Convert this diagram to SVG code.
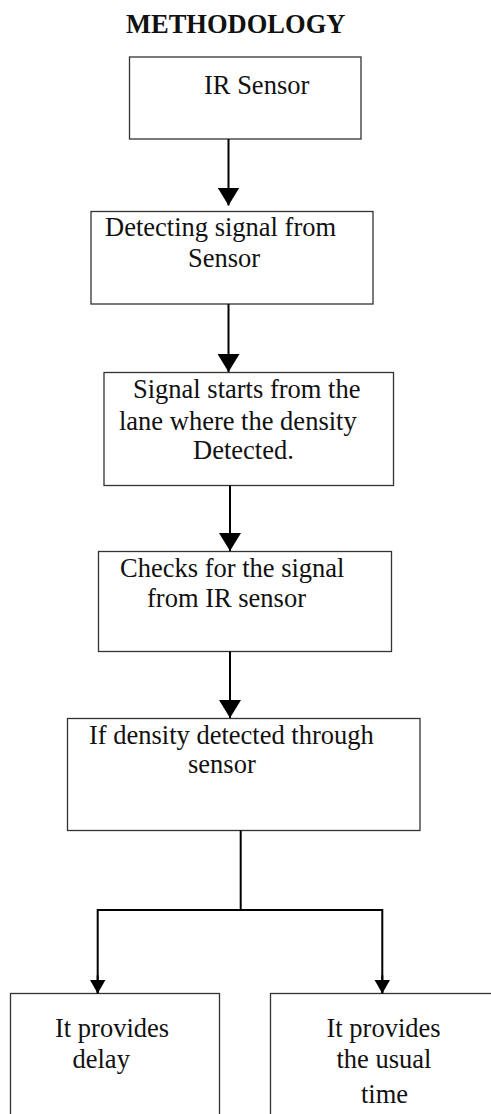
<svg xmlns="http://www.w3.org/2000/svg" width="491" height="1114" viewBox="0 0 491 1114">
<defs>
<style>
.box{fill:#fff;stroke:#333;stroke-width:1.3}
.t{font-family:"Liberation Serif","Times New Roman",serif;font-size:26.5px;fill:#111}
.title{font-family:"Liberation Serif","Times New Roman",serif;font-size:26.5px;font-weight:bold;fill:#111}
.c{stroke:#000;stroke-width:2;fill:none}
</style>
<marker id="ah" viewBox="0 0 18 22" refX="18" refY="11" markerWidth="18" markerHeight="22" markerUnits="userSpaceOnUse" orient="auto">
<path d="M0,0 L18,11 L0,22 Z" fill="#000"/>
</marker>
<marker id="ahs" viewBox="0 0 14 16" refX="14" refY="8" markerWidth="14" markerHeight="16" markerUnits="userSpaceOnUse" orient="auto">
<path d="M0,0 L14,8 L0,16 Z" fill="#000"/>
</marker>
</defs>
<rect width="491" height="1114" fill="#fff"/>
<text class="title" x="126" y="33">METHODOLOGY</text>
<g id="n1"><rect class="box" x="129.5" y="57" width="231.5" height="82"/><text class="t" x="204" y="94">IR Sensor</text></g>
<g id="n2"><rect class="box" x="91" y="211.5" width="282" height="92.5"/><text class="t" x="105" y="235.5">Detecting signal from</text><text class="t" x="188" y="267">Sensor</text></g>
<g id="n3"><rect class="box" x="104" y="372.5" width="289.5" height="113"/><text class="t" x="133" y="398">Signal starts from the</text><text class="t" x="119" y="430">lane where the density</text><text class="t" x="193" y="459">Detected.</text></g>
<g id="n4"><rect class="box" x="98.5" y="551.5" width="293" height="100"/><text class="t" x="120" y="577">Checks for the signal</text><text class="t" x="147" y="606.5">from IR sensor</text></g>
<g id="n5"><rect class="box" x="67.5" y="718.5" width="352.5" height="112"/><text class="t" x="89" y="744">If density detected through</text><text class="t" x="188" y="773">sensor</text></g>
<g id="n6"><rect class="box" x="10.5" y="993.5" width="209" height="130"/><text class="t" x="55" y="1036.5">It provides</text><text class="t" x="72.5" y="1068">delay</text></g>
<g id="n7"><rect class="box" x="270.5" y="993.5" width="230" height="130"/><text class="t" x="326.5" y="1036.5">It provides</text><text class="t" x="336.5" y="1068">the usual</text><text class="t" x="361" y="1103">time</text></g>
<g id="connectors">
<line class="c" x1="228.5" y1="139" x2="228.5" y2="205.5" marker-end="url(#ah)"/>
<line class="c" x1="228.5" y1="304" x2="228.5" y2="372" marker-end="url(#ah)"/>
<line class="c" x1="230" y1="485.5" x2="230" y2="551" marker-end="url(#ah)"/>
<line class="c" x1="230" y1="651.5" x2="230" y2="718" marker-end="url(#ah)"/>
<polyline class="c" points="240.7,830.5 240.7,911"/>
<polyline class="c" points="97.7,993 97.7,910 382.3,910 382.3,993"/>
<line class="c" x1="97.7" y1="975" x2="97.7" y2="993.5" marker-end="url(#ahs)"/>
<line class="c" x1="382.3" y1="975" x2="382.3" y2="993.5" marker-end="url(#ahs)"/>
</g>
</svg>
